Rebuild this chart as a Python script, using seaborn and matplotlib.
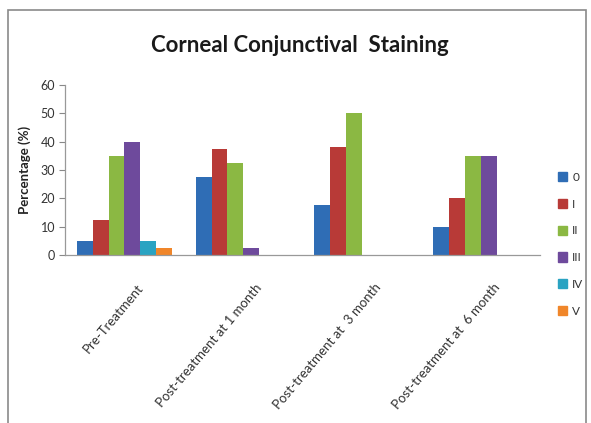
import matplotlib
matplotlib.use("Agg")
import matplotlib.pyplot as plt
import matplotlib.patches as mpatches
import matplotlib.transforms as mtrans
import pandas as pd
import seaborn as sns

# Chart data
periods = ["Pre-Treatment", "Post-treatment at 1 month",
           "Post-treatment at  3 month", "Post-treatment at  6 month"]
grades = ["0", "I", "II", "III", "IV", "V"]
grade_0 = [5, 27.5, 17.5, 10]
grade_I = [12.5, 37.5, 38, 20]
grade_II = [35, 32.5, 50, 35]
grade_III = [40, 2.5, 0, 35]
grade_IV = [5, 0, 0, 0]
grade_V = [2.5, 0, 0, 0]

series = [grade_0, grade_I, grade_II, grade_III, grade_IV, grade_V]
rows = []
for g, vals in zip(grades, series):
    for p, v in zip(periods, vals):
        rows.append({"period": p, "grade": g, "value": v})
df = pd.DataFrame(rows)

palette = ["#2F6DB5", "#B83A37", "#8BB843", "#6E4A9C", "#2AA3C2", "#F0862A"]

sns.set_theme(style="white")
plt.rcParams["font.family"] = ["Lato", "DejaVu Sans"]

fig = plt.figure(figsize=(5.91, 4.23), dpi=100)
ax = fig.add_axes([0.110, 0.397, 0.804, 0.402])

sns.barplot(data=df, x="period", y="value", hue="grade", order=periods,
            hue_order=grades, palette=palette, width=0.8, saturation=1,
            edgecolor="none", linewidth=0, ax=ax)

ax.set_ylim(0, 60)
ax.set_yticks(range(0, 61, 10))
ax.set_xlim(-0.5, 3.5)
ax.set_xlabel("")
ax.set_ylabel("Percentage (%)", fontsize=9.5, fontweight="bold", color="#222222",
              labelpad=7)
ax.tick_params(axis="y", which="both", left=True, length=4, width=0.8,
               color="#888888", labelsize=9, labelcolor="#333333", pad=3)
ax.tick_params(axis="x", length=0, labelsize=9.5, labelcolor="#333333", pad=19)
ax.set_xticks(range(len(periods)))
ax.set_xticklabels(periods, rotation=50, ha="right", rotation_mode="anchor")

for side in ["top", "right"]:
    ax.spines[side].set_visible(False)
for side in ["left", "bottom"]:
    ax.spines[side].set_color("#999999")
    ax.spines[side].set_linewidth(0.9)

# Rotated tick labels end slightly right of each group centre
offset = mtrans.ScaledTranslation(12 / 100, 0, fig.dpi_scale_trans)
for lbl in ax.get_xticklabels():
    lbl.set_transform(lbl.get_transform() + offset)

handles = [mpatches.Patch(color=c) for c in palette]
leg = ax.legend(handles, grades, loc="upper left",
                bbox_to_anchor=(558 / 591, 1 - 172 / 423),
                bbox_transform=fig.transFigure,
                frameon=False, fontsize=8.5, handlelength=0.8, handleheight=0.8,
                handletextpad=0.4, labelspacing=1.33, borderaxespad=0,
                borderpad=0)
for t in leg.get_texts():
    t.set_color("#333333")

fig.text(0.508, 0.893, "Corneal Conjunctival  Staining", ha="center", va="center",
         fontsize=16, fontweight="bold", color="#1a1a1a")

# Outer chart frame
frame = mpatches.Rectangle((7.5 / 591, -0.01), (586 - 7.5) / 591, 1 - 10 / 423 + 0.01,
                           transform=fig.transFigure, fill=False,
                           edgecolor="#8a8a8a", linewidth=1.2, clip_on=False)
fig.patches.append(frame)

fig.savefig("out.png", dpi=100)
